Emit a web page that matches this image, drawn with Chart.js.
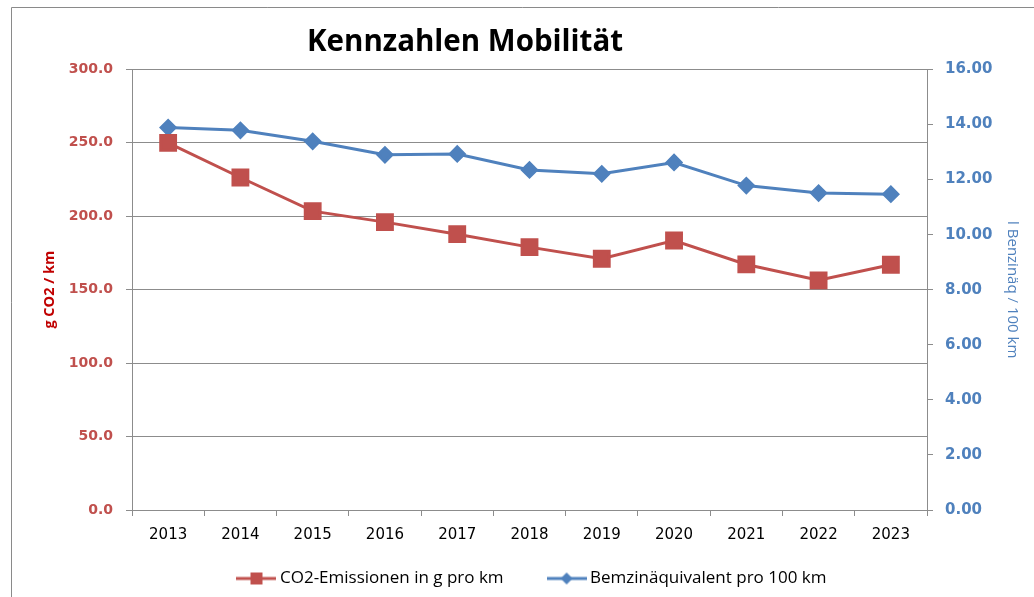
<!DOCTYPE html>
<html>
<head>
<meta charset="utf-8">
<script src="https://cdn.jsdelivr.net/npm/chart.js@4/dist/chart.umd.min.js"></script>
<style>
  html, body { margin: 0; padding: 0; background: #fff; }
  #wrap { width: 1034px; height: 597px; position: relative; }
</style>
</head>
<body>
<div id="wrap"><canvas id="chart" width="1034" height="597"></canvas></div>
<script>
const years = ["2013", "2014", "2015", "2016", "2017", "2018", "2019", "2020", "2021", "2022", "2023"];
const co2PerKm = [250.0, 226.4, 203.5, 196.0, 187.8, 179.0, 171.1, 183.5, 167.2, 156.4, 167.0];
const litrePer100 = [13.89, 13.79, 13.39, 12.90, 12.93, 12.35, 12.21, 12.62, 11.78, 11.51, 11.47];

const RED = "#C0504D";
const BLUE = "#4F81BD";
const GRID = "#8C8C8C";

// legend symbol: short line with the marker in the middle
const legendIcon = (color, shape) => {
  const c = document.createElement("canvas");
  c.width = 40; c.height = 14;
  const ctx = c.getContext("2d");
  ctx.strokeStyle = color;
  ctx.lineWidth = 3;
  ctx.beginPath(); ctx.moveTo(0, 7); ctx.lineTo(40, 7); ctx.stroke();
  ctx.fillStyle = color;
  if (shape === "rect") {
    ctx.fillRect(14, 1, 12, 12);
  } else {
    ctx.beginPath();
    ctx.moveTo(20, 1); ctx.lineTo(26, 7); ctx.lineTo(20, 13); ctx.lineTo(14, 7);
    ctx.closePath(); ctx.fill();
  }
  return c;
};

const frame = {
  id: "frame",
  beforeDraw(chart) {
    const ctx = chart.ctx;
    ctx.save();
    ctx.strokeStyle = "#8A8A8A";
    ctx.lineWidth = 1;
    ctx.beginPath();
    ctx.moveTo(11.5, 597); ctx.lineTo(11.5, 7.5); ctx.lineTo(1034, 7.5);
    ctx.stroke();
    ctx.restore();
  },
  afterLayout(chart) {
    chart.titleBlock.left = 0;
    chart.titleBlock.right = 930;
    chart.titleBlock.width = 930;
    const lg = chart.legend;
    lg.left = 0;
    lg.right = 1068;
    lg.width = 1068;
    lg.top = 522;
    lg.bottom = 597;
    lg.height = 75;
  }
};

new Chart(document.getElementById("chart"), {
  type: "line",
  data: {
    labels: years,
    datasets: [
      {
        label: "CO2-Emissionen in g pro km",
        data: co2PerKm,
        yAxisID: "y",
        borderColor: RED,
        backgroundColor: RED,
        borderWidth: 3,
        pointStyle: "rect",
        pointRadius: 10.5,
        pointHoverRadius: 10.5,
        legendIcon: legendIcon(RED, "rect"),
      },
      {
        label: "Bemzinäquivalent pro 100 km",
        data: litrePer100,
        yAxisID: "y1",
        borderColor: BLUE,
        backgroundColor: BLUE,
        borderWidth: 3,
        pointStyle: "rectRot",
        pointRadius: 7,
        pointHoverRadius: 7,
        legendIcon: legendIcon(BLUE, "diamond"),
      },
    ],
  },
  options: {
    responsive: false,
    animation: false,
    layout: { padding: 0 },
    plugins: {
      title: {
        display: true,
        text: "Kennzahlen Mobilität",
        color: "#000",
        font: { family: "'Open Sans'", size: 29.5, weight: "bold", lineHeight: 1.2 },
        padding: { top: 25, bottom: 9 },
      },
      legend: {
        position: "bottom",
        maxHeight: 40,
        labels: {
          color: "#000",
          font: { family: "'Open Sans'", size: 17 },
          usePointStyle: true,
          pointStyleWidth: 30,
          padding: 48,
          generateLabels: (chart) =>
            chart.data.datasets.map((ds, i) => ({
              text: ds.label,
              pointStyle: ds.legendIcon,
              fillStyle: ds.backgroundColor,
              strokeStyle: ds.borderColor,
              lineWidth: 0,
              hidden: false,
              datasetIndex: i,
            })),
        },
      },
      tooltip: { enabled: false },
    },
    scales: {
      x: {
        offset: true,
        afterFit: (s) => { s.height = 47; },
        grid: { drawOnChartArea: false, color: GRID, tickLength: 6, offset: true },
        border: { color: GRID },
        ticks: { color: "#000", font: { family: "'DejaVu Sans'", size: 15 }, padding: 10 },
      },
      y: {
        position: "left",
        min: 0,
        max: 300,
        afterFit: (s) => { s.width = 132; },
        grid: { color: GRID, tickLength: 6 },
        border: { color: GRID },
        ticks: {
          stepSize: 50,
          color: RED,
          font: { family: "'DejaVu Sans'", size: 14, weight: "bold" },
          padding: 13,
          callback: (v) => v.toFixed(1),
        },
        title: {
          display: true,
          text: "g CO2 / km",
          color: "#C00000",
          font: { family: "'Open Sans'", size: 14.5, weight: "bold", lineHeight: 1.2 },
          padding: { top: 41 },
        },
      },
      y1: {
        position: "right",
        min: 0,
        max: 16,
        afterFit: (s) => { s.width = 107; },
        grid: { drawOnChartArea: false, color: GRID, tickLength: 6 },
        border: { color: GRID },
        ticks: {
          stepSize: 2,
          color: BLUE,
          font: { family: "'DejaVu Sans'", size: 15, weight: "bold" },
          padding: 12,
          callback: (v) => v.toFixed(2),
        },
        title: {
          display: true,
          text: "l Benzinäq / 100 km",
          color: BLUE,
          font: { family: "'Open Sans'", size: 15, lineHeight: 1.2 },
          padding: { top: 13 },
        },
      },
    },
  },
  plugins: [frame],
});
</script>
</body>
</html>
